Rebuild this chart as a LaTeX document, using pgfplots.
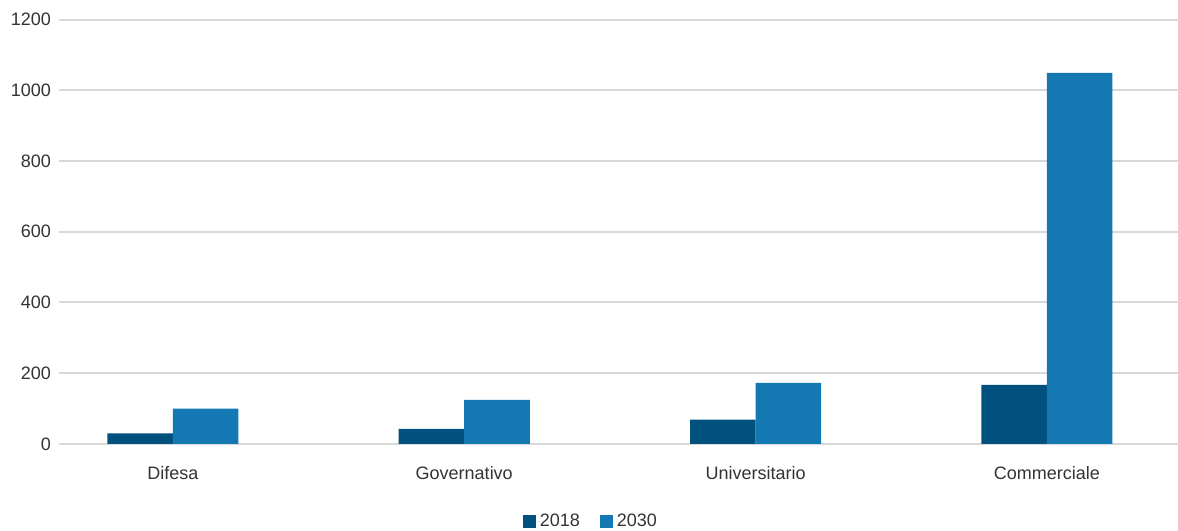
\documentclass[border=0pt]{standalone}
\usepackage{pgfplots}
\pgfplotsset{compat=1.18}
\usepackage{fontspec}
\setmainfont{Liberation Sans}
\usetikzlibrary{calc}
\definecolor{dark}{HTML}{01517F}
\definecolor{light}{HTML}{1478B3}
\definecolor{gridc}{HTML}{D8D8D8}
\definecolor{txt}{HTML}{333333}
\begin{document}
\fontsize{18pt}{21pt}\selectfont
\begin{tikzpicture}
\begin{axis}[
  scale only axis,
  width=1119pt, height=424.5pt,
  xmin=-0.391, xmax=3.45,
  ymin=0, ymax=1200,
  ytick={0,200,...,1200},
  xtick={0,1,2,3},
  xticklabels={Difesa,Governativo,Universitario,Commerciale},
  axis line style={draw=none},
  major tick length=0pt,
  ymajorgrids,
  grid style={gridc, line width=2pt},
  /pgf/number format/assume math mode=true,
  /pgf/number format/1000 sep={},
  tick label style={font=\fontsize{18pt}{21pt}\selectfont, text=txt},
  yticklabel style={anchor=east, inner sep=0pt, xshift=-8pt},
  xticklabel style={anchor=base, inner sep=0pt, yshift=-36pt},
  ybar, bar width=0.225,
  legend columns=2,
  legend style={draw=none, at={(axis description cs:0.4745,0)}, anchor=center, yshift=-78pt,
    font=\fontsize{18pt}{21pt}\selectfont, text=txt,
    nodes={inner xsep=0pt},
    /tikz/every even column/.append style={column sep=20pt}},
  legend image code/.code={\fill[#1] (0pt,-6.5pt) rectangle (13pt,6.5pt); \path (0pt,0pt) -- (17pt,0pt);},
]
\coordinate (sw) at (rel axis cs:0,0);
\coordinate (ne) at (rel axis cs:1,1);
\addplot[fill=dark, draw=none, bar shift=-0.1125] coordinates {(0,30) (1,43) (2,69) (3,167)};
\addplot[fill=light, draw=none, bar shift=0.1125] coordinates {(0,100) (1,125) (2,173) (3,1049)};
\legend{2018,2030}
\end{axis}
\pgfresetboundingbox
\path ($(sw)+(-59pt,-87pt)$) rectangle ($(ne)+(0pt,19.5pt)$);
\end{tikzpicture}
\end{document}
